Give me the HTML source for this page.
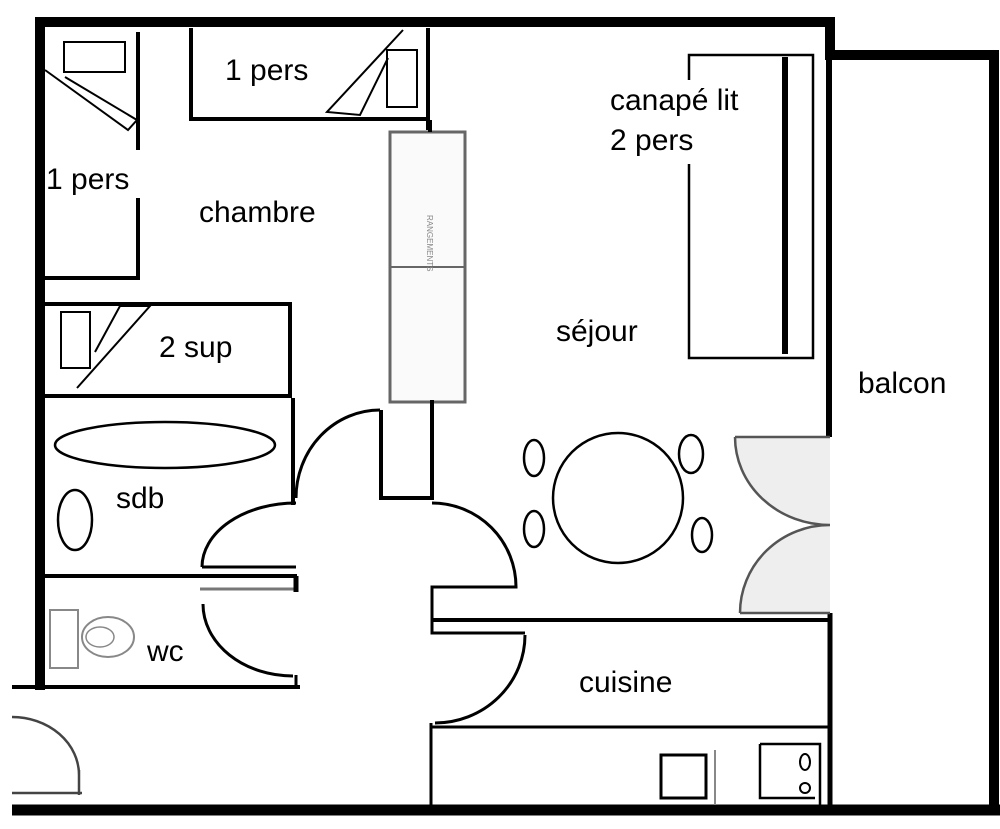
<!DOCTYPE html>
<html><head><meta charset="utf-8"><style>
html,body{margin:0;padding:0;background:#fff;}
svg{display:block;}
text{font-family:"Liberation Sans",Arial,sans-serif;font-size:30px;fill:#000;}
</style></head><body>
<svg width="1000" height="829" viewBox="0 0 1000 829" xmlns="http://www.w3.org/2000/svg">
<rect width="1000" height="829" fill="#fff"/>
<path d="M735,437 A95,88 0 0 0 830,525 L830,437 Z" fill="#eeeeee"/>
<path d="M740,613 A90,88 0 0 1 830,525 L830,613 Z" fill="#eeeeee"/>
<g fill="none" stroke="#000">
<path d="M35,22 H830 V55 H994 V805" stroke-width="10"/>
<path d="M40,17 V690" stroke-width="10"/>
<path d="M12,810 H1000" stroke-width="11"/>
<path d="M829,55 V437" stroke-width="6"/>
<path d="M830,613 V808" stroke-width="5"/>
<path d="M191,28 V119 H428 M428,28 V130" stroke-width="4"/>
<rect x="387" y="50" width="30" height="57" stroke-width="2"/>
<path d="M403,30 L327,112 L360,115 L388,58" stroke-width="2"/>
<path d="M138,32 V150 M138,198 V280 M45,278 H140" stroke-width="4"/>
<rect x="64" y="42" width="61" height="30" stroke-width="2"/>
<path d="M45,70 L128,130 L137,120 L65,77" stroke-width="2"/>
<path d="M45,304 H290 V396 M45,396 H292" stroke-width="4"/>
<rect x="61" y="312" width="29" height="56" stroke-width="2"/>
<path d="M77,388 L150,306 L120,306 L95,352" stroke-width="2"/>
<rect x="390" y="132" width="75" height="270" fill="#fafafa" stroke="#666" stroke-width="3"/>
<path d="M390,267 H465" stroke="#666" stroke-width="2"/>
<path d="M430,120 V132" stroke-width="4"/>
<path d="M381,410 V498 H432 V400" stroke-width="4"/>
<path d="M293,398 V505" stroke-width="4"/>
<ellipse cx="165" cy="445" rx="110" ry="23" stroke-width="2.5"/>
<ellipse cx="75" cy="520" rx="17" ry="30" stroke-width="2.5"/>
<path d="M45,576 H297" stroke-width="4"/>
<path d="M200,589 H297" stroke="#777" stroke-width="3"/>
<path d="M296,576 V592" stroke-width="5"/>
<path d="M202,567 H296 M202,567 A94,64 0 0 1 296,503" stroke-width="3"/>
<path d="M296,498 A84,88 0 0 1 380,410" stroke-width="3"/>
<path d="M203,604 A90,72 0 0 0 293,676 M296,675 V688" stroke-width="3"/>
<path d="M12,687 H300" stroke-width="4"/>
<path d="M12,717 A67,58 0 0 1 79,775 M79,770 V795 M12,793 H82" stroke="#444" stroke-width="2.5"/>
<path d="M432,503 A84,84 0 0 1 516,587 H432 V633 H525 M525,635 A90,88 0 0 1 435,723 M431,723 V808" stroke-width="3"/>
<path d="M431,620 H830" stroke-width="4"/>
<path d="M431,727 H830" stroke-width="3"/>
<path d="M735,437 H830 M735,437 A95,88 0 0 0 830,525 M740,613 A90,88 0 0 1 830,525 M740,613 H830" stroke="#555" stroke-width="2.5"/>
<circle cx="618" cy="498" r="65" stroke-width="2.5"/>
<ellipse cx="534" cy="458" rx="10" ry="18" stroke-width="2.5"/>
<ellipse cx="534" cy="529" rx="10" ry="18" stroke-width="2.5"/>
<ellipse cx="691" cy="454" rx="12" ry="19" stroke-width="2.5"/>
<ellipse cx="702" cy="535" rx="10" ry="17" stroke-width="2.5"/>
<rect x="689" y="55" width="124" height="303" stroke-width="2.5"/>
<path d="M785,57 V354" stroke-width="6"/>
<rect x="50" y="610" width="28" height="58" stroke="#888" stroke-width="2"/>
<ellipse cx="108" cy="637" rx="26" ry="20" stroke="#888" stroke-width="2"/>
<ellipse cx="100" cy="637" rx="14" ry="10" stroke="#888" stroke-width="1.5"/>
<rect x="661" y="755" width="45" height="43" stroke-width="3"/>
<path d="M715,750 V805" stroke="#888" stroke-width="2"/>
<path d="M760,744 V798 H815 M760,744 H820 V805" stroke-width="2.5"/>
<ellipse cx="805" cy="762" rx="5" ry="8" stroke-width="2"/>
<circle cx="805" cy="788" r="5" stroke-width="2"/>
</g>
<rect x="605" y="80" width="90" height="84" fill="#fff"/>
<text x="225" y="80">1 pers</text>
<text x="46" y="189">1 pers</text>
<text x="199" y="222">chambre</text>
<text x="159" y="357">2 sup</text>
<text x="116" y="508">sdb</text>
<text x="147" y="661">wc</text>
<text x="610" y="110">canapé lit</text>
<text x="610" y="150">2 pers</text>
<text x="556" y="341">séjour</text>
<text x="858" y="393">balcon</text>
<text x="579" y="692">cuisine</text>
<text x="0" y="0" transform="translate(427,215) rotate(90)" style="font-size:8px;fill:#888">RANGEMENTS</text>
</svg>
</body></html>
